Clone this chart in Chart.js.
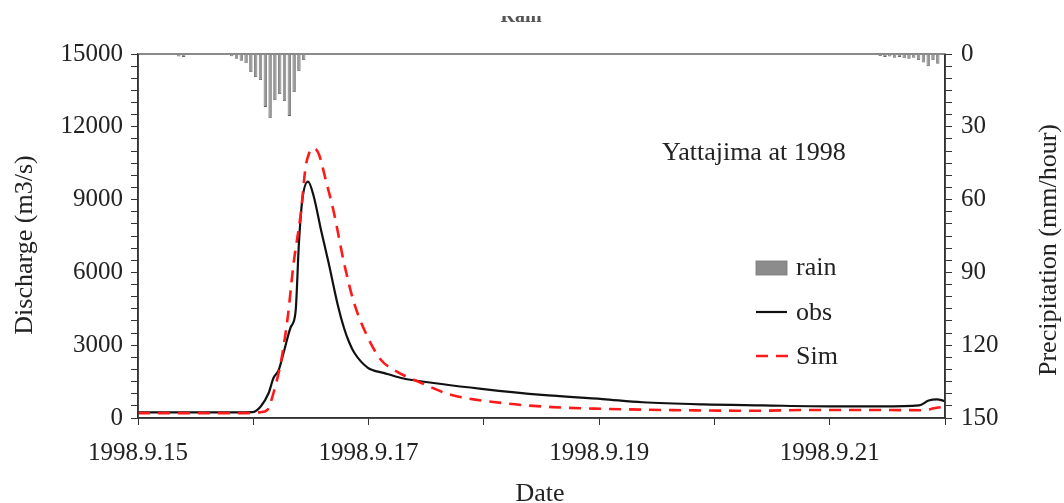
<!DOCTYPE html>
<html>
<head>
<meta charset="utf-8">
<script src="https://cdn.jsdelivr.net/npm/chart.js@4.4.1/dist/chart.umd.min.js"></script>
<style>
  html, body { margin: 0; padding: 0; background: #fff; }
  #wrap { width: 1064px; height: 503px; position: relative; }
</style>
</head>
<body>
<div id="wrap"><canvas id="c" width="1064" height="503"></canvas></div>
<script>
// ---- data (x = hours since 1998-09-15 00:00) ----
const rainHours = [8.5, 9.5, 19.5, 20.5, 21.5, 22.5, 23.5, 24.5, 25.5, 26.5, 27.5, 28.5, 29.5, 30.5, 31.5, 32.5, 33.5, 34.5,
                   154.5, 155.5, 156.5, 157.5, 158.5, 159.5, 160.5, 161.5, 162.5, 163.5, 164.5, 165.5, 166.5];
const rainMm    = [1.0, 1.2, 0.9, 2.0, 2.8, 3.8, 7.4, 9.5, 10.7, 21.8, 26.4, 19.0, 16.5, 19.4, 25.5, 15.7, 7.0, 2.5,
                   0.8, 1.2, 1.0, 1.5, 1.2, 1.8, 2.0, 1.5, 2.5, 3.5, 5.0, 2.5, 4.0];

const obsHours = [0, 12, 20, 23.8, 25.5, 27.2, 28.2, 29.3, 30.3, 31.8, 32.8, 33.5, 34.2, 35.4, 36.6, 38.1, 39.7, 41.6, 42.9, 44.0, 45.0, 47.8,
                  51.3, 54.8, 63.2, 71.5, 84.1, 96.7, 105, 117.6, 130, 144, 155, 162.6, 164.6, 166.3, 168];
const obsQ     = [230, 230, 230, 240, 466, 1030, 1650, 1980, 2680, 3750, 4370, 7200, 8980, 9740, 9120, 7750, 6380, 4650, 3700, 3100, 2700, 2080,
                  1850, 1650, 1400, 1200, 950, 780, 650, 560, 520, 480, 480, 520, 720, 770, 700];

const simHours = [0, 12, 23.4, 25.5, 26.9, 28.2, 29.7, 31.1, 32.4, 33.9, 34.9, 35.6, 36.3, 37.0, 37.7, 39.1, 40.8, 42.9, 45.0, 47.8, 50.6, 53.3,
                  59, 65.3, 75.7, 86.2, 96.7, 117.6, 130, 138.5, 155, 163.6, 165.7, 168];
const simQ     = [200, 200, 200, 240, 330, 1030, 2260, 4040, 6380, 8450, 10350, 10900, 11110, 11080, 10850, 9800, 8450, 6380, 4730, 3340, 2390, 1980,
                  1440, 950, 620, 450, 380, 310, 300, 330, 330, 320, 400, 470];

const dateTickHours  = [0, 48, 96, 144];
const dateTickLabels = ['1998.9.15', '1998.9.17', '1998.9.19', '1998.9.21'];
const dischargeMajor = 3000;
const rainMajor = 30;

const FONT = '"Liberation Serif", "Times New Roman", serif';
const TXT = '#222';
const AXC = '#333';

function pts(xs, ys) { return xs.map((x, i) => ({ x: x, y: ys[i] })); }

const overlay = {
  id: 'overlay',
  afterDraw(chart) {
    const ctx = chart.ctx, a = chart.chartArea;
    ctx.save();
    // frame
    ctx.strokeStyle = '#8a8a8a';
    ctx.lineWidth = 2;
    ctx.beginPath(); ctx.moveTo(a.left, a.top); ctx.lineTo(a.right, a.top); ctx.stroke();
    ctx.strokeStyle = AXC; ctx.lineWidth = 1.5;
    ctx.beginPath(); ctx.moveTo(a.left, a.top); ctx.lineTo(a.left, a.bottom); ctx.lineTo(a.right, a.bottom); ctx.lineTo(a.right, a.top); ctx.stroke();

    ctx.fillStyle = TXT;
    // clipped top title
    ctx.save();
    ctx.beginPath(); ctx.rect(0, 16, 1064, 30); ctx.clip();
    ctx.fillStyle = '#555';
    ctx.font = 'bold 20px ' + FONT; ctx.textAlign = 'center'; ctx.textBaseline = 'alphabetic';
    ctx.fillText('Rain', 521, 22);
    ctx.restore();

    // axis titles
    ctx.font = '26px ' + FONT;
    ctx.textAlign = 'center'; ctx.textBaseline = 'middle';
    ctx.save(); ctx.translate(25, 245); ctx.rotate(-Math.PI / 2); ctx.fillText('Discharge (m3/s)', 0, 0); ctx.restore();
    ctx.save(); ctx.translate(1049, 250); ctx.rotate(-Math.PI / 2); ctx.fillText('Precipitation (mm/hour)', 0, 0); ctx.restore();
    ctx.textBaseline = 'alphabetic';
    ctx.fillText('Date', 540, 501);

    // in-plot title and legend
    ctx.font = '26px ' + FONT; ctx.textAlign = 'left'; ctx.textBaseline = 'middle';
    ctx.fillText('Yattajima at 1998', 662, 153);
    ctx.fillStyle = '#8c8c8c';
    ctx.fillRect(756, 261, 31, 14);
    ctx.strokeStyle = '#777'; ctx.lineWidth = 0.8; ctx.strokeRect(756, 261, 31, 14);
    ctx.fillStyle = TXT;
    ctx.fillText('rain', 796, 268);
    ctx.strokeStyle = '#111'; ctx.lineWidth = 2.2;
    ctx.beginPath(); ctx.moveTo(756, 312); ctx.lineTo(787, 312); ctx.stroke();
    ctx.fillText('obs', 796, 313);
    ctx.strokeStyle = '#ff1a1a'; ctx.lineWidth = 2.6; ctx.setLineDash([12, 8]);
    ctx.beginPath(); ctx.moveTo(756, 356); ctx.lineTo(790, 356); ctx.stroke();
    ctx.setLineDash([]);
    ctx.fillText('Sim', 796, 357);
    ctx.restore();
  }
};

const ctx = document.getElementById('c').getContext('2d');
new Chart(ctx, {
  type: 'bar',
  data: {
    datasets: [
      {
        type: 'line', label: 'obs', data: pts(obsHours, obsQ), xAxisID: 'x', yAxisID: 'y',
        borderColor: '#111', borderWidth: 2.2, pointRadius: 0, tension: 0.4, cubicInterpolationMode: 'monotone', order: 1
      },
      {
        type: 'line', label: 'Sim', data: pts(simHours, simQ), xAxisID: 'x', yAxisID: 'y',
        borderColor: '#ff1a1a', borderWidth: 2.6, borderDash: [12, 8], pointRadius: 0, tension: 0.4, cubicInterpolationMode: 'monotone', order: 0
      },
      {
        type: 'bar', label: 'rain', data: pts(rainHours, rainMm), xAxisID: 'x', yAxisID: 'y2',
        backgroundColor: '#959595', borderColor: '#666', borderWidth: 0.8, barPercentage: 0.7, categoryPercentage: 1.0, order: 2
      }
    ]
  },
  options: {
    responsive: false,
    animation: false,
    layout: { padding: { top: 54, left: 0, right: 0, bottom: 0 } },
    plugins: { legend: { display: false }, tooltip: { enabled: false }, title: { display: false } },
    scales: {
      x: {
        type: 'linear', min: 0, max: 168, offset: false,
        afterFit: s => { s.height = 85; },
        afterBuildTicks: s => { s.ticks = [0, 24, 48, 72, 96, 120, 144, 168].map(v => ({ value: v })); },
        ticks: {
          autoSkip: false, maxRotation: 0, padding: 13, color: TXT, font: { family: FONT, size: 25 },
          callback: v => { const i = dateTickHours.indexOf(v); return i >= 0 ? dateTickLabels[i] : ''; }
        },
        grid: { display: true, drawOnChartArea: false, drawTicks: true, tickLength: 7, tickColor: AXC, offset: false },
        border: { display: true, color: AXC, width: 1.5 }
      },
      y: {
        type: 'linear', position: 'left', min: 0, max: 15000,
        afterFit: s => { s.width = 138; },
        ticks: {
          stepSize: 500, autoSkip: false, padding: 8, color: TXT, font: { family: FONT, size: 25 },
          callback: v => (v % dischargeMajor === 0 ? String(v) : '')
        },
        grid: { display: true, drawOnChartArea: false, drawTicks: true, tickLength: 7, tickColor: AXC },
        border: { display: true, color: AXC, width: 1.5 }
      },
      y2: {
        type: 'linear', position: 'right', min: 0, max: 150, reverse: true,
        afterFit: s => { s.width = 119; },
        ticks: {
          stepSize: 5, autoSkip: false, padding: 9, color: TXT, font: { family: FONT, size: 25 },
          callback: v => (v % rainMajor === 0 ? String(v) : '')
        },
        grid: { display: true, drawOnChartArea: false, drawTicks: true, tickLength: 7, tickColor: AXC },
        border: { display: true, color: AXC, width: 1.5 }
      }
    }
  },
  plugins: [overlay]
});
</script>
</body>
</html>
